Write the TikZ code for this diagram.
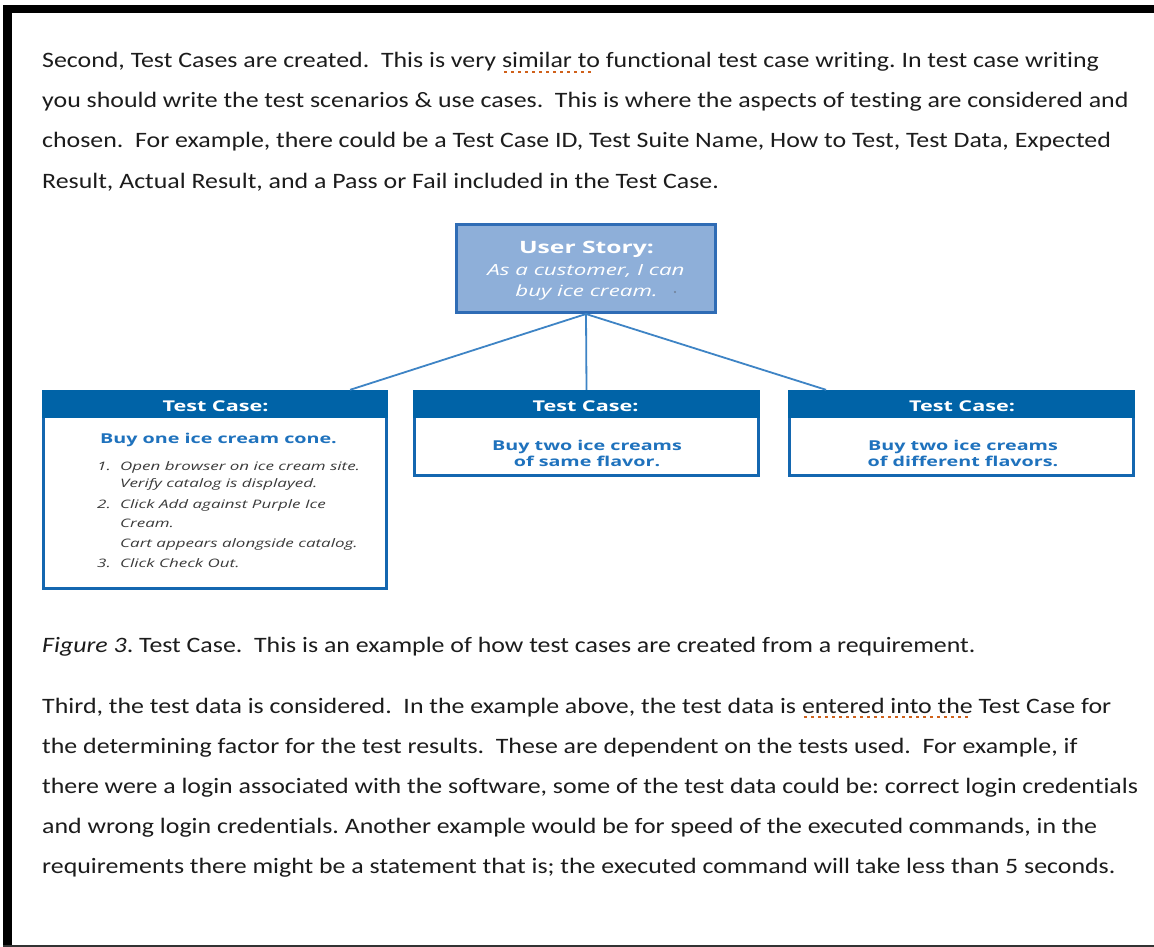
\documentclass[tikz,border=0pt]{standalone}
\usepackage{fontspec}
\setmainfont{Carlito}[FakeStretch=1.176, Ligatures=NoCommon]
\newfontfamily\diag{Open Sans}[FakeStretch=1.45]
\usetikzlibrary{calc}
\definecolor{txt}{HTML}{1C1C1C}
\definecolor{sq}{HTML}{D0611A}
\definecolor{usfill}{HTML}{8EAFD9}
\definecolor{usborder}{HTML}{2F6CB5}
\definecolor{hdrblue}{HTML}{0063A7}
\definecolor{boxblue}{HTML}{1467B0}
\definecolor{connblue}{HTML}{3E84C5}
\definecolor{buyblue}{HTML}{1F72BD}
\definecolor{listgray}{HTML}{3A3A3A}
\definecolor{framegray}{HTML}{333333}
\definecolor{dotgray}{HTML}{6F7F95}
\frenchspacing
\newsavebox\sqbox
\newcommand\squig[1]{\sbox\sqbox{#1}\rlap{\color{sq}\raisebox{-5pt}{\hbox to \wd\sqbox{\leaders\hbox to 7pt{\hss\rule{3pt}{2pt}\hss}\hfill}}}\usebox\sqbox}
\tikzset{
  body/.style={anchor=base west, inner sep=0pt, text=txt, font=\fontsize{22}{26}\selectfont},
  usbox/.style={draw=usborder, fill=usfill, line width=3pt, inner sep=0pt},
  tcbox/.style={draw=boxblue, fill=white, line width=2.8pt, inner sep=0pt},
  hdr/.style={fill=hdrblue, inner sep=0pt},
  conn/.style={draw=connblue, line width=1.8pt},
  ustitle/.style={anchor=base, inner sep=0pt, text=white, font=\diag\bfseries\fontsize{17}{20}\selectfont},
  usline/.style={anchor=base, inner sep=0pt, text=white, font=\diag\itshape\fontsize{15.4}{18}\selectfont},
  hdrtxt/.style={anchor=base, inner sep=0pt, text=white, font=\diag\bfseries\fontsize{14.9}{17}\selectfont},
  buytxt/.style={anchor=base, inner sep=0pt, text=buyblue, font=\diag\bfseries\fontsize{13.6}{16}\selectfont},
  listtxt/.style={anchor=base west, inner sep=0pt, text=listgray, font=\diag\itshape\fontsize{11.7}{14}\selectfont},
}
\begin{document}
\begin{tikzpicture}[x=1pt,y=-1pt]
\useasboundingbox (0,0) rectangle (1154,947);
\fill[white] (0,0) rectangle (1154,947);
% frame
\fill[black] (3,5) rectangle (1154,13);
\fill[black] (3,5) rectangle (12,947);
\draw[framegray, line width=1.5pt] (3,946) -- (1154,946);

% first paragraph
\node[body] (p1) at (42,68) {Second, Test Cases are created.~ This is very \squig{similar to} functional test case writing. In test case writing};
\node[body] (p2) at (42,108) {you should write the test scenarios \& use cases.~ This is where the aspects of testing are considered and};
\node[body] (p3) at (42,148) {chosen.~ For example, there could be a Test Case ID, Test Suite Name, How to Test, Test Data, Expected};
\node[body] (p4) at (42,188) {Result, Actual Result, and a Pass or Fail included in the Test Case.};

% diagram boxes
\node[usbox, minimum width=259pt, minimum height=88pt] (us) at (586,268.5) {};
\node[tcbox, minimum width=343pt, minimum height=197pt] (tc1) at (215,490) {};
\node[tcbox, minimum width=344pt, minimum height=84pt] (tc2) at (586.5,433.5) {};
\node[tcbox, minimum width=344pt, minimum height=84pt] (tc3) at (961.5,433.5) {};
\node[hdr, minimum width=346pt, minimum height=28pt] (h1) at (215,404) {};
\node[hdr, minimum width=347pt, minimum height=28pt] (h2) at (586.5,404) {};
\node[hdr, minimum width=347pt, minimum height=28pt] (h3) at (961.5,404) {};

% connectors
\draw[conn] (us.south) -- ($(h1.north west)!0.89!(h1.north east)$);
\draw[conn] (us.south) -- (h2.north);
\draw[conn] (us.south) -- ($(h3.north west)!0.11!(h3.north east)$);

% user story text
\node[ustitle] (ust) at (586.5,253) {User Story:};
\node[usline] (us1) at (586,275) {As a customer, I can};
\node[usline] (us2) at (586.5,296) {buy ice cream.};
\fill[dotgray] (675,292) circle (1.2pt);

% headers
\node[hdrtxt] (ht1) at (215.5,411) {Test Case:};
\node[hdrtxt] (ht2) at (585.5,411) {Test Case:};
\node[hdrtxt] (ht3) at (962,411) {Test Case:};

% left box contents
\node[buytxt] (b1) at (218.5,443) {Buy one ice cream cone.};
\node[listtxt] (n1) at (97,470) {1.};
\node[listtxt] (l1a) at (120,470) {Open browser on ice cream site.};
\node[listtxt] (l1b) at (120,487) {Verify catalog is displayed.};
\node[listtxt] (n2) at (97,508) {2.};
\node[listtxt] (l2a) at (120,508) {Click Add against Purple Ice};
\node[listtxt] (l2b) at (120,527) {Cream.};
\node[listtxt] (l2c) at (120,547) {Cart appears alongside catalog.};
\node[listtxt] (n3) at (97,567) {3.};
\node[listtxt] (l3a) at (120,567) {Click Check Out.};

% middle and right contents
\node[buytxt] (b2a) at (587,450) {Buy two ice creams};
\node[buytxt] (b2b) at (587,466) {of same flavor.};
\node[buytxt] (b3a) at (963,450) {Buy two ice creams};
\node[buytxt] (b3b) at (963,466) {of different flavors.};

% caption
\node[body] (cap) at (42,652) {\textit{Figure 3}. Test Case.~ This is an example of how test cases are created from a requirement.};

% third paragraph
\node[body] (q1) at (42,713) {Third, the test data is considered.~ In the example above, the test data is \squig{entered into the} Test Case for};
\node[body] (q2) at (42,753) {the determining factor for the test results.~ These are dependent on the tests used.~ For example, if};
\node[body] (q3) at (42,793) {there were a login associated with the software, some of the test data could be: correct login credentials};
\node[body] (q4) at (42,833) {and wrong login credentials. Another example would be for speed of the executed commands, in the};
\node[body] (q5) at (42,873) {requirements there might be a statement that is; the executed command will take less than 5 seconds.};
\end{tikzpicture}
\end{document}
